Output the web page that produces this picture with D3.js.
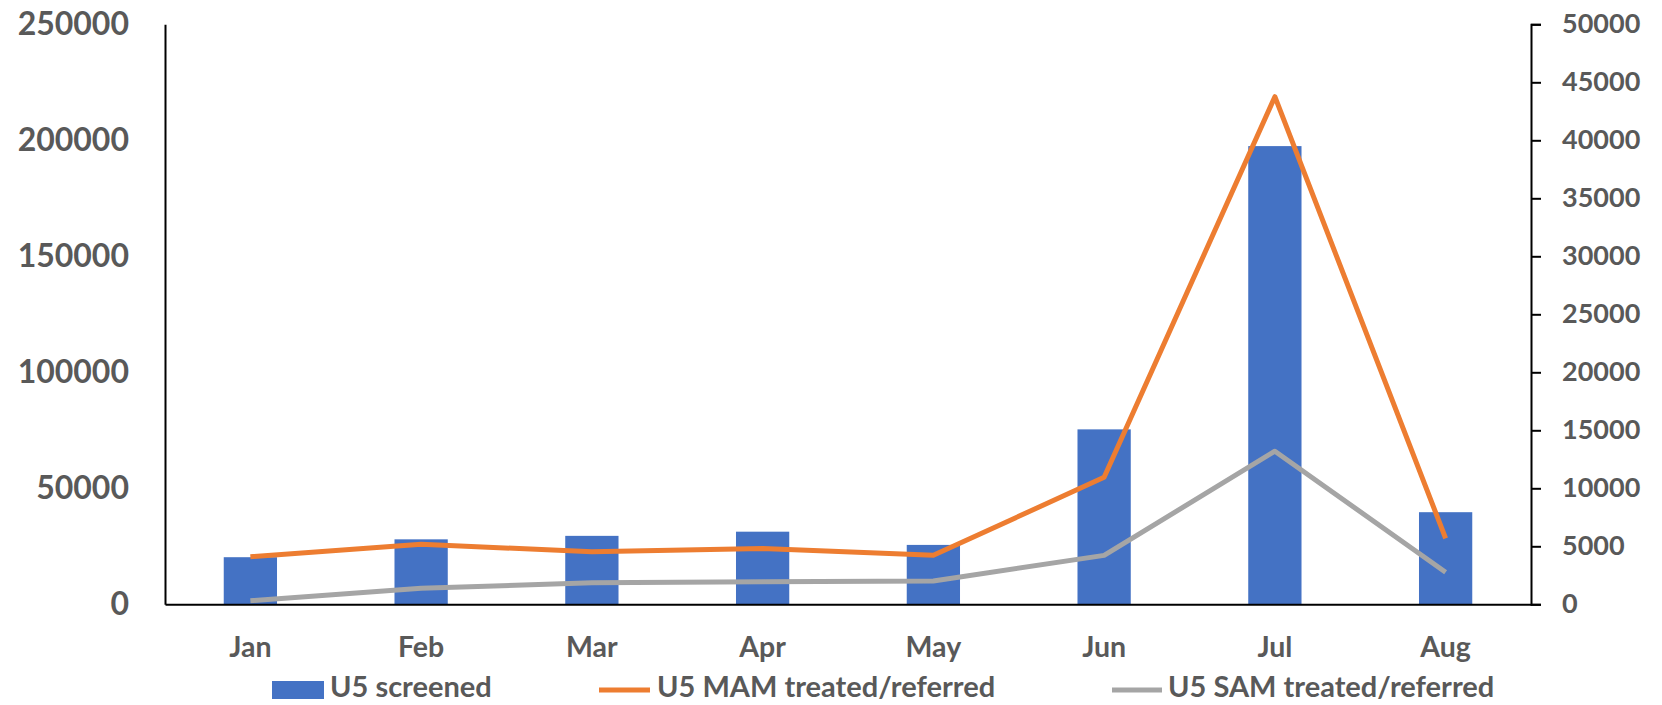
<!DOCTYPE html>
<html>
<head>
<meta charset="utf-8">
<script src="https://cdn.jsdelivr.net/npm/d3@7"></script>
<style>
  html, body { margin: 0; padding: 0; background: #fff; }
  svg { display: block; }
  text { font-family: Lato, "Open Sans", sans-serif; font-weight: 700; fill: #595959; }
</style>
</head>
<body>
<svg id="chart" width="1662" height="705"></svg>
<script>
// Monthly screening and treatment figures
const months = ["Jan", "Feb", "Mar", "Apr", "May", "Jun", "Jul", "Aug"];
const screened = [20300, 28000, 29500, 31300, 25600, 75400, 197500, 39700];
const mamTreated = [4100, 5170, 4540, 4800, 4220, 10950, 43760, 5690];
const samTreated = [310, 1380, 1860, 1950, 2010, 4220, 13200, 2760];

const leftTicks = [0, 50000, 100000, 150000, 200000, 250000];
const rightTicks = [0, 5000, 10000, 15000, 20000, 25000, 30000, 35000, 40000, 45000, 50000];

const seriesNames = ["U5 screened", "U5 MAM treated/referred", "U5 SAM treated/referred"];
const colors = { bar: "#4472C4", mam: "#ED7D31", sam: "#A5A5A5" };

const svg = d3.select("#chart");
const plot = { left: 165, right: 1531, top: 24.3, bottom: 604.3 };

const x = d3.scaleBand()
  .domain(months)
  .range([plot.left, plot.right])
  .paddingInner(0.688)
  .paddingOuter(0.344);

const yLeft = d3.scaleLinear().domain([0, 250000]).range([plot.bottom, plot.top]);
const yRight = d3.scaleLinear().domain([0, 50000]).range([plot.bottom, plot.top]);

// Bars: children screened (left axis)
svg.append("g")
  .selectAll("rect")
  .data(months)
  .join("rect")
  .attr("x", d => x(d))
  .attr("width", x.bandwidth())
  .attr("y", (d, i) => yLeft(screened[i]))
  .attr("height", (d, i) => yLeft(0) - yLeft(screened[i]))
  .attr("fill", colors.bar);

// Lines: MAM and SAM treated/referred (right axis)
const cx = d => x(d) + x.bandwidth() / 2;
const line = vals => d3.line()
  .x((d, i) => cx(months[i]))
  .y(d => yRight(d))(vals);

svg.append("path")
  .attr("d", line(mamTreated))
  .attr("fill", "none")
  .attr("stroke", colors.mam)
  .attr("stroke-width", 5)
  .attr("stroke-linejoin", "round");

svg.append("path")
  .attr("d", line(samTreated))
  .attr("fill", "none")
  .attr("stroke", colors.sam)
  .attr("stroke-width", 5)
  .attr("stroke-linejoin", "round");

// Left axis
const gl = svg.append("g")
  .attr("transform", `translate(${plot.left},0)`)
  .call(d3.axisLeft(yLeft).tickValues(leftTicks).tickSize(0).tickPadding(36).tickFormat(d3.format("d")));
gl.select(".domain").attr("stroke", "#000").attr("stroke-width", 2);
gl.selectAll("text").attr("font-size", 32).attr("fill", "#595959")
  .style("font-family", "Lato, sans-serif").style("font-weight", 700);

// Right axis
const gr = svg.append("g")
  .attr("transform", `translate(${plot.right},0)`)
  .call(d3.axisRight(yRight).tickValues(rightTicks).tickSize(10).tickPadding(21).tickFormat(d3.format("d")));
gr.select(".domain").attr("stroke", "#000").attr("stroke-width", 2);
gr.selectAll("line").attr("stroke", "#000").attr("stroke-width", 2);
gr.selectAll("text").attr("font-size", 27).attr("fill", "#595959")
  .style("font-family", "Lato, sans-serif").style("font-weight", 700);

// Category axis
const gb = svg.append("g")
  .attr("transform", `translate(0,${plot.bottom})`)
  .call(d3.axisBottom(x).tickSize(0).tickSizeOuter(0).tickPadding(32));
gb.select(".domain").attr("stroke", "#000").attr("stroke-width", 2);
gb.selectAll("text").attr("font-size", 28.5).attr("fill", "#595959")
  .style("font-family", "Lato, sans-serif").style("font-weight", 700);

// Legend
const legendY = 690;
const legendBaseline = 697;
const legend = svg.append("g");
legend.append("rect").attr("x", 272).attr("y", 681).attr("width", 52).attr("height", 18).attr("fill", colors.bar);
legend.append("text").attr("x", 330).attr("y", legendBaseline).attr("font-size", 29).text(seriesNames[0]);
legend.append("line").attr("x1", 599).attr("x2", 650).attr("y1", legendY).attr("y2", legendY)
  .attr("stroke", colors.mam).attr("stroke-width", 5);
legend.append("text").attr("x", 657).attr("y", legendBaseline).attr("font-size", 29).text(seriesNames[1]);
legend.append("line").attr("x1", 1112).attr("x2", 1162).attr("y1", legendY).attr("y2", legendY)
  .attr("stroke", colors.sam).attr("stroke-width", 5);
legend.append("text").attr("x", 1168).attr("y", legendBaseline).attr("font-size", 29).text(seriesNames[2]);
</script>
</body>
</html>
